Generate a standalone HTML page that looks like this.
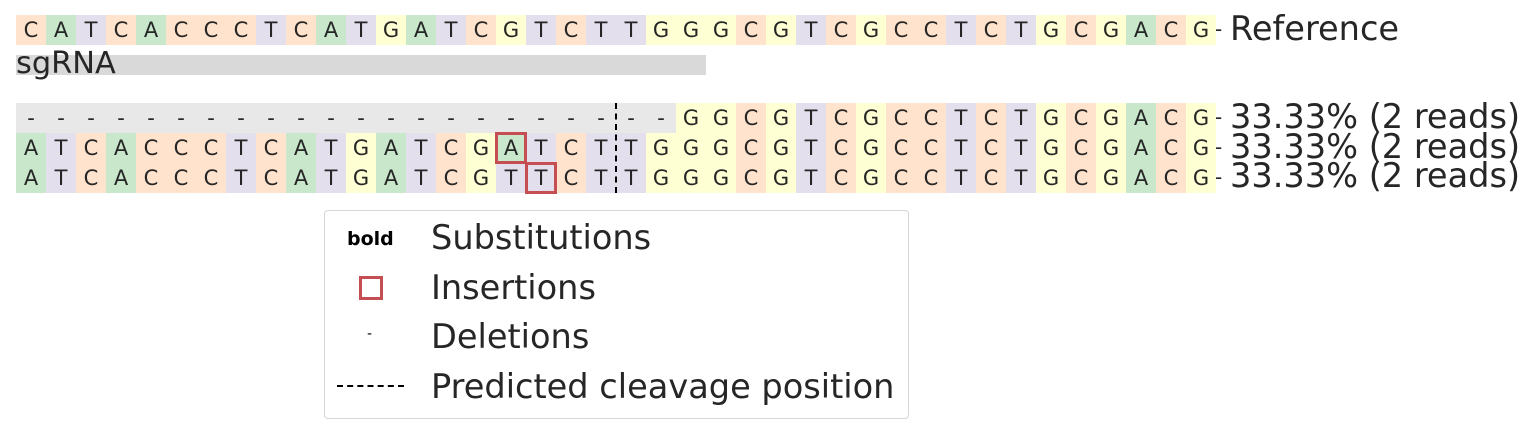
<!DOCTYPE html>
<html><head><meta charset="utf-8"><style>
body{margin:0;width:1530px;height:429px;background:#fff;position:relative;overflow:hidden;font-family:"DejaVu Sans","Liberation Sans",sans-serif;color:#262626}
.row{position:absolute;left:16px;display:flex;height:30px}
.row i{font-style:normal;display:block;width:30px;height:30px;line-height:30px;text-align:center;font-size:21px}
.A{background:#c9e8cb}.C{background:#ffe3cc}.G{background:#ffffd4}.T{background:#e4dfed}.D{background:#e8e8e8}
.lab{position:absolute;font-size:33.6px;line-height:34px;white-space:nowrap}
.dash{position:absolute;left:1215px;font-size:20px}
.box{position:absolute;border:3px solid #c44e52;box-sizing:border-box;width:32px;height:32px}
</style></head><body>
<div class="row" style="top:15px"><i class=C>C</i><i class=A>A</i><i class=T>T</i><i class=C>C</i><i class=A>A</i><i class=C>C</i><i class=C>C</i><i class=C>C</i><i class=T>T</i><i class=C>C</i><i class=A>A</i><i class=T>T</i><i class=G>G</i><i class=A>A</i><i class=T>T</i><i class=C>C</i><i class=G>G</i><i class=T>T</i><i class=C>C</i><i class=T>T</i><i class=T>T</i><i class=G>G</i><i class=G>G</i><i class=G>G</i><i class=C>C</i><i class=G>G</i><i class=T>T</i><i class=C>C</i><i class=G>G</i><i class=C>C</i><i class=C>C</i><i class=T>T</i><i class=C>C</i><i class=T>T</i><i class=G>G</i><i class=C>C</i><i class=G>G</i><i class=A>A</i><i class=C>C</i><i class=G>G</i></div>
<div class="dash" style="top:17px">-</div>
<div class="lab" style="left:1230px;top:12px">Reference</div>
<div style="position:absolute;left:16px;top:55px;width:690px;height:20px;background:#d9d9d9"></div>
<div class="lab" style="left:16px;top:47px;font-size:30.4px">sgRNA</div>

<div class="row" style="top:103px"><i class=D>-</i><i class=D>-</i><i class=D>-</i><i class=D>-</i><i class=D>-</i><i class=D>-</i><i class=D>-</i><i class=D>-</i><i class=D>-</i><i class=D>-</i><i class=D>-</i><i class=D>-</i><i class=D>-</i><i class=D>-</i><i class=D>-</i><i class=D>-</i><i class=D>-</i><i class=D>-</i><i class=D>-</i><i class=D>-</i><i class=D>-</i><i class=D>-</i><i class=G>G</i><i class=G>G</i><i class=C>C</i><i class=G>G</i><i class=T>T</i><i class=C>C</i><i class=G>G</i><i class=C>C</i><i class=C>C</i><i class=T>T</i><i class=C>C</i><i class=T>T</i><i class=G>G</i><i class=C>C</i><i class=G>G</i><i class=A>A</i><i class=C>C</i><i class=G>G</i></div>
<div class="row" style="top:133px"><i class=A>A</i><i class=T>T</i><i class=C>C</i><i class=A>A</i><i class=C>C</i><i class=C>C</i><i class=C>C</i><i class=T>T</i><i class=C>C</i><i class=A>A</i><i class=T>T</i><i class=G>G</i><i class=A>A</i><i class=T>T</i><i class=C>C</i><i class=G>G</i><i class=A>A</i><i class=T>T</i><i class=C>C</i><i class=T>T</i><i class=T>T</i><i class=G>G</i><i class=G>G</i><i class=G>G</i><i class=C>C</i><i class=G>G</i><i class=T>T</i><i class=C>C</i><i class=G>G</i><i class=C>C</i><i class=C>C</i><i class=T>T</i><i class=C>C</i><i class=T>T</i><i class=G>G</i><i class=C>C</i><i class=G>G</i><i class=A>A</i><i class=C>C</i><i class=G>G</i></div>
<div class="row" style="top:163px"><i class=A>A</i><i class=T>T</i><i class=C>C</i><i class=A>A</i><i class=C>C</i><i class=C>C</i><i class=C>C</i><i class=T>T</i><i class=C>C</i><i class=A>A</i><i class=T>T</i><i class=G>G</i><i class=A>A</i><i class=T>T</i><i class=C>C</i><i class=G>G</i><i class=T>T</i><i class=T>T</i><i class=C>C</i><i class=T>T</i><i class=T>T</i><i class=G>G</i><i class=G>G</i><i class=G>G</i><i class=C>C</i><i class=G>G</i><i class=T>T</i><i class=C>C</i><i class=G>G</i><i class=C>C</i><i class=C>C</i><i class=T>T</i><i class=C>C</i><i class=T>T</i><i class=G>G</i><i class=C>C</i><i class=G>G</i><i class=A>A</i><i class=C>C</i><i class=G>G</i></div>
<div class="box" style="left:495px;top:132px"></div>
<div class="box" style="left:525px;top:162px"></div>
<div style="position:absolute;left:615px;top:103px;height:90px;border-left:2px dashed #000"></div>
<div class="dash" style="top:105px">-</div><div class="dash" style="top:135px">-</div><div class="dash" style="top:165px">-</div>
<div class="lab" style="left:1230px;top:100px">33.33% (2 reads)</div>
<div class="lab" style="left:1230px;top:130px">33.33% (2 reads)</div>
<div class="lab" style="left:1230px;top:159px">33.33% (2 reads)</div>

<div style="position:absolute;left:324px;top:210px;width:583px;height:207px;border:1px solid #d6d6d6;border-radius:4px"></div>
<div style="position:absolute;left:347px;top:228px;font-size:19px;font-weight:bold;color:#000">bold</div>
<div style="position:absolute;left:359px;top:276px;width:24px;height:24px;border:3px solid #c44e52;box-sizing:border-box"></div>
<div style="position:absolute;left:367px;top:326px;font-size:14px;color:#000">-</div>
<div style="position:absolute;left:337px;top:385px;width:67px;border-top:2px dashed #000"></div>
<div class="lab" style="left:431px;top:221px">Substitutions</div>
<div class="lab" style="left:431px;top:271px">Insertions</div>
<div class="lab" style="left:431px;top:320px">Deletions</div>
<div class="lab" style="left:431px;top:370px">Predicted cleavage position</div>
</body></html>
